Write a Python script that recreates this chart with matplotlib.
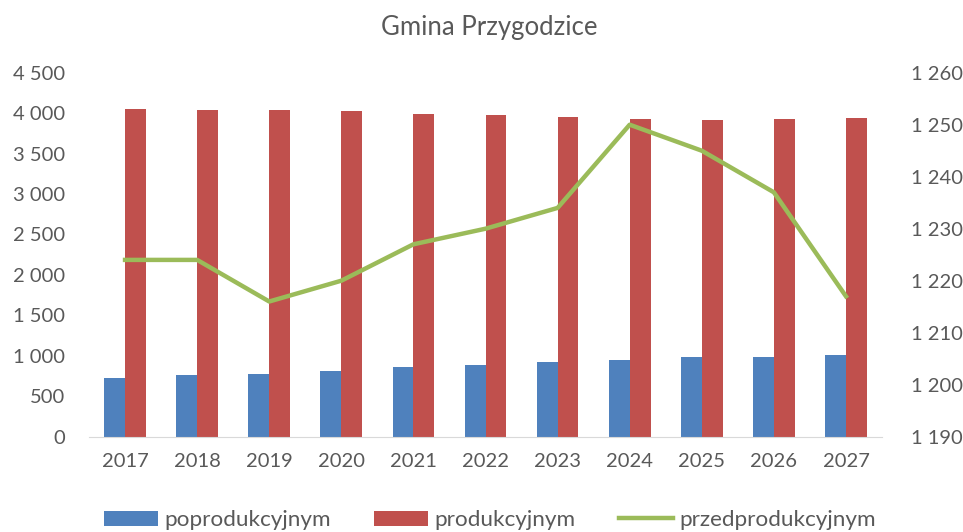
import numpy as np
import matplotlib.pyplot as plt
from matplotlib.ticker import FuncFormatter

# Gmina Przygodzice - ludność wg ekonomicznych grup wieku
lata = ['2017', '2018', '2019', '2020', '2021', '2022', '2023', '2024', '2025', '2026', '2027']
poprodukcyjnym = [729, 759, 779, 808, 858, 886, 920, 952, 985, 985, 1014]
produkcyjnym = [4054, 4038, 4038, 4022, 3993, 3973, 3956, 3927, 3911, 3927, 3943]
przedprodukcyjnym = [1224, 1224, 1216, 1220, 1227, 1230, 1234, 1250, 1245, 1237, 1217]

plt.rcParams['font.family'] = ['Lato', 'DejaVu Sans']
szary = '#595959'

fig = plt.figure(figsize=(9.63, 5.32), dpi=100)
ax = fig.add_axes([89 / 963, 1 - 436.7 / 532, 793 / 963, 364 / 532])
ax2 = ax.twinx()

x = np.arange(len(lata))
w = 0.29
ax.bar(x - w / 2, poprodukcyjnym, w, color='#4f81bd', label='poprodukcyjnym')
ax.bar(x + w / 2, produkcyjnym, w, color='#c0504d', label='produkcyjnym')
ax2.plot(x, przedprodukcyjnym, color='#9bbb59', lw=3.2, label='przedprodukcyjnym')

ax.set_xlim(-0.5, len(lata) - 0.5)
ax.set_ylim(0, 4500)
ax.set_yticks(np.arange(0, 4501, 500))
ax2.set_ylim(1190, 1260)
ax2.set_yticks(np.arange(1190, 1261, 10))

fmt = FuncFormatter(lambda v, p: f'{int(v):,}'.replace(',', ' '))
ax.yaxis.set_major_formatter(fmt)
ax2.yaxis.set_major_formatter(fmt)

ax.set_xticks(x)
ax.set_xticklabels(lata)

for a in (ax, ax2):
    for s in a.spines.values():
        s.set_visible(False)
    a.tick_params(length=0, colors=szary, labelsize=14.5)
ax.spines['bottom'].set_visible(True)
ax.spines['bottom'].set_color('#d9d9d9')
ax.tick_params(axis='x', pad=12, labelsize=14.5)
ax.tick_params(axis='y', pad=17)
ax2.tick_params(axis='y', pad=21)

fig.text(0.508, 1 - 27 / 532, 'Gmina Przygodzice', ha='center', va='center', fontsize=18.5, color=szary)

h1, l1 = ax.get_legend_handles_labels()
h2, l2 = ax2.get_legend_handles_labels()
fig.legend(h1 + h2, l1 + l2, loc='center', bbox_to_anchor=(490 / 963, 1 - 520 / 532), ncol=3,
           frameon=False, fontsize=16.2, labelcolor=szary, handlelength=2.4, handleheight=0.65,
           handletextpad=0.27, columnspacing=1.95, borderpad=0, borderaxespad=0)

fig.savefig('out.png', dpi=100)
